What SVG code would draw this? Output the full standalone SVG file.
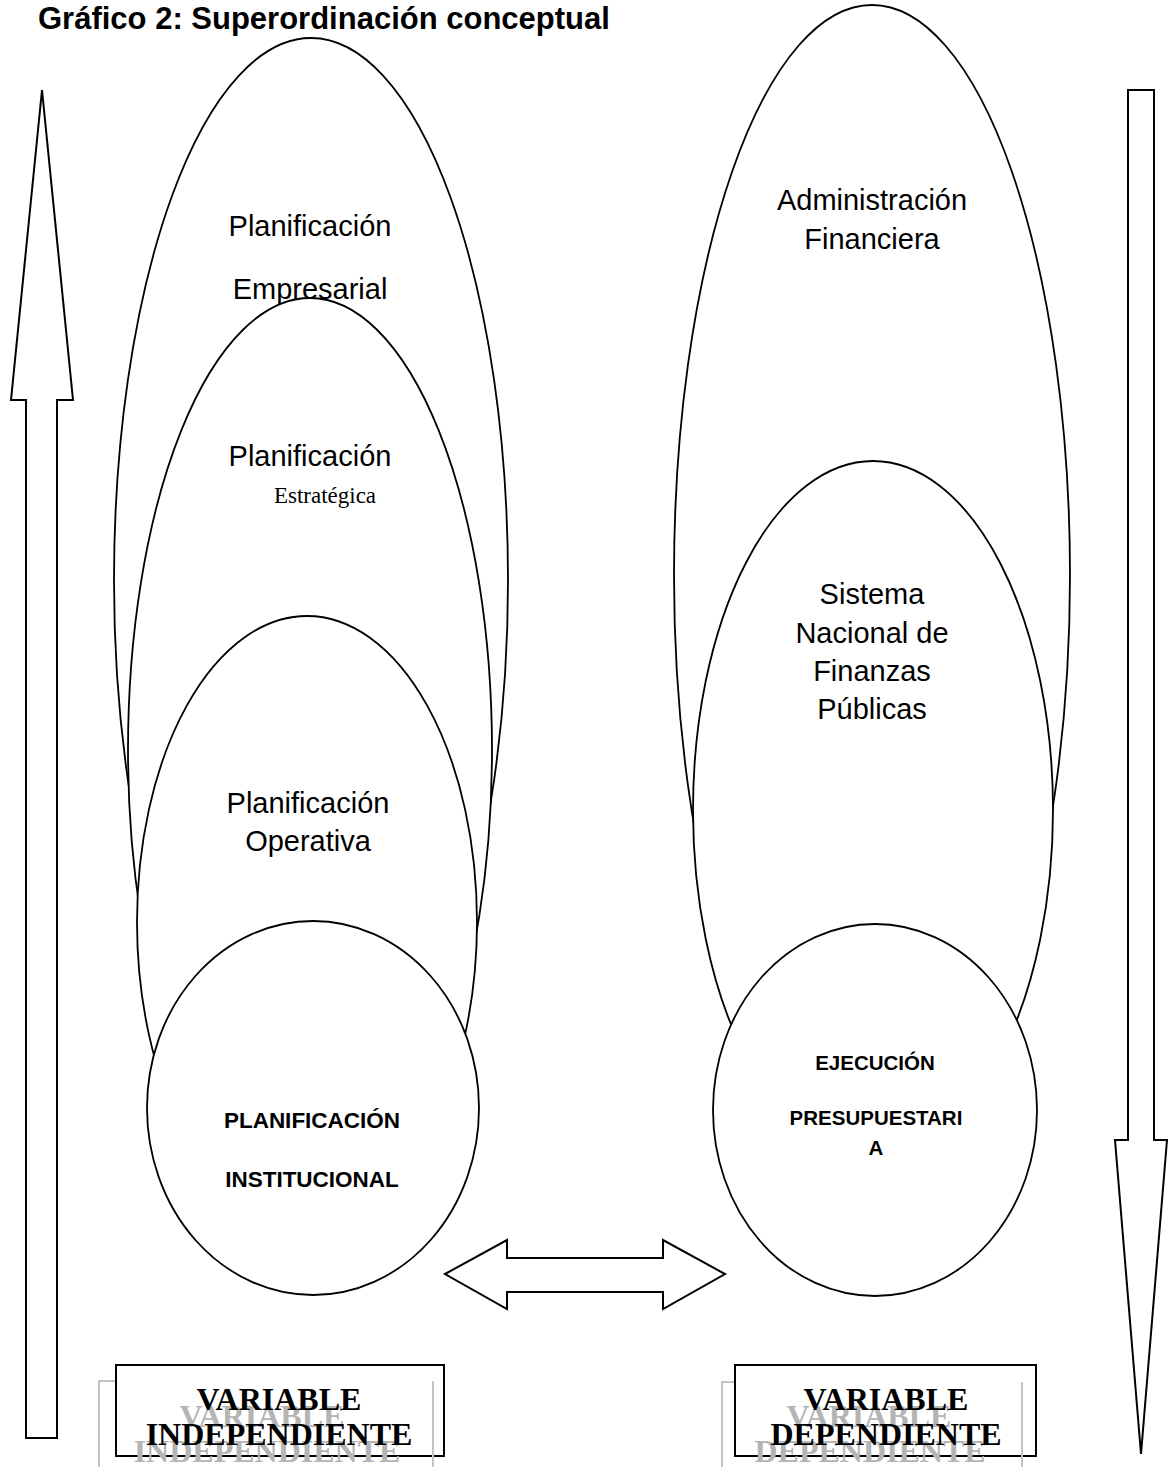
<svg xmlns="http://www.w3.org/2000/svg" width="1168" height="1467" viewBox="0 0 1168 1467">
<style>
.bg{fill:#fff}
.ell{fill:#fff;stroke:#000;stroke-width:1.8}
.arr{fill:#fff;stroke:#000;stroke-width:2}
.t{font-family:"Liberation Sans",Arial,sans-serif;font-size:29px;fill:#000;text-anchor:middle}
.tb{font-family:"Liberation Sans",Arial,sans-serif;font-weight:bold;fill:#000;text-anchor:middle}
.ts{font-family:"Liberation Serif","Times New Roman",serif;fill:#000;text-anchor:middle}
.box{fill:#fff;stroke:#000;stroke-width:2}
.gbox{fill:none;stroke:#c4c4c4;stroke-width:2}
.vb{font-family:"Liberation Serif","Times New Roman",serif;font-weight:bold;font-size:32px;text-anchor:middle}
</style>
<rect class="bg" x="0" y="0" width="1168" height="1467"/>
<text id="title" x="38" y="29" font-family="Liberation Sans, Arial, sans-serif" font-weight="bold" font-size="31">Gráfico 2: Superordinación conceptual</text>

<g id="connectors">
  <polygon id="arrow-up" class="arr" points="42,90 73,400 57,400 57,1438 26,1438 26,400 11,400"/>
  <polygon id="arrow-down" class="arr" points="1128,90 1154,90 1154,1140 1167,1140 1141,1454 1115,1140 1128,1140"/>
  <polygon id="arrow-both" class="arr" points="445,1274 507,1240 507,1258 663,1258 663,1240 725,1274 663,1309 663,1292 507,1292 507,1309"/>
</g>

<g id="planificacion-empresarial">
  <ellipse class="ell" cx="311" cy="580" rx="197" ry="542"/>
  <text class="t" x="310" y="236">Planificación</text>
  <text class="t" x="310" y="299">Empresarial</text>
</g>
<g id="planificacion-estrategica">
  <ellipse class="ell" cx="310" cy="750" rx="182" ry="452"/>
  <text class="t" x="310" y="466">Planificación</text>
  <text class="ts" x="325" y="503" font-size="23">Estratégica</text>
</g>
<g id="planificacion-operativa">
  <ellipse class="ell" cx="307" cy="922" rx="170" ry="306"/>
  <text class="t" x="308" y="813">Planificación</text>
  <text class="t" x="308" y="851">Operativa</text>
</g>
<g id="planificacion-institucional">
  <ellipse class="ell" cx="313" cy="1108" rx="166" ry="187"/>
  <text class="tb" x="312" y="1128" font-size="22.5">PLANIFICACIÓN</text>
  <text class="tb" x="312" y="1187" font-size="22.5">INSTITUCIONAL</text>
</g>

<g id="administracion-financiera">
  <ellipse class="ell" cx="872" cy="575" rx="198" ry="570"/>
  <text class="t" x="872" y="210">Administración</text>
  <text class="t" x="872" y="249">Financiera</text>
</g>
<g id="sistema-nacional">
  <ellipse class="ell" cx="873" cy="810" rx="180" ry="349"/>
  <text class="t" x="872" y="604">Sistema</text>
  <text class="t" x="872" y="643">Nacional de</text>
  <text class="t" x="872" y="681">Finanzas</text>
  <text class="t" x="872" y="719">Públicas</text>
</g>
<g id="ejecucion-presupuestaria">
  <ellipse class="ell" cx="875" cy="1110" rx="162" ry="186"/>
  <text class="tb" x="875" y="1070" font-size="20.5">EJECUCIÓN</text>
  <text class="tb" x="876" y="1125" font-size="20.5">PRESUPUESTARI</text>
  <text class="tb" x="876" y="1155" font-size="20.5">A</text>
</g>

<g id="variable-independiente">
  <rect class="gbox" x="99" y="1381" width="334" height="110"/>
  <rect class="box" x="116" y="1365" width="328" height="91"/>
  <line x1="433" y1="1381" x2="433" y2="1467" stroke="#c4c4c4" stroke-width="2"/>
  <text class="vb" x="262" y="1427" fill="#b4b4b4">VARIABLE</text>
  <text class="vb" x="267" y="1462" fill="#b4b4b4">INDEPENDIENTE</text>
  <text class="vb" x="279" y="1410" fill="#000">VARIABLE</text>
  <text class="vb" x="279" y="1445" fill="#000">INDEPENDIENTE</text>
</g>
<g id="variable-dependiente">
  <rect class="gbox" x="722" y="1382" width="300" height="110"/>
  <rect class="box" x="735" y="1365" width="301" height="91"/>
  <line x1="1022" y1="1382" x2="1022" y2="1467" stroke="#c4c4c4" stroke-width="2"/>
  <text class="vb" x="869" y="1427" fill="#b4b4b4">VARIABLE</text>
  <text class="vb" x="870" y="1462" fill="#b4b4b4">DEPENDIENTE</text>
  <text class="vb" x="886" y="1410" fill="#000">VARIABLE</text>
  <text class="vb" x="886" y="1445" fill="#000">DEPENDIENTE</text>
</g>
</svg>
